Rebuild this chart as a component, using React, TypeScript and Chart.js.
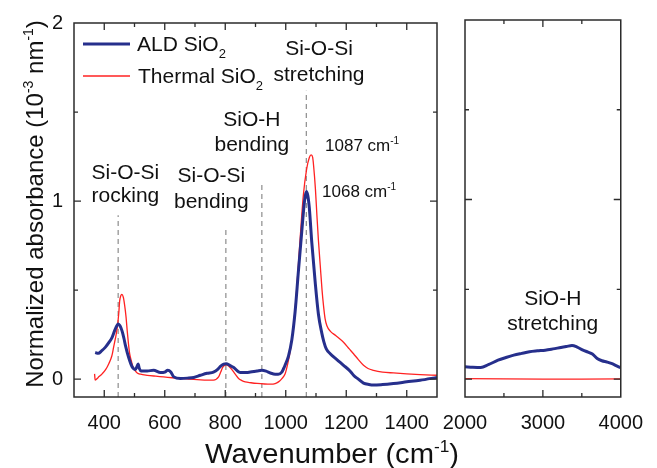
import React, { useEffect, useRef } from "react";
import { Chart, registerables } from "chart.js";

Chart.register(...registerables);

// ---------- data ----------
const ALD_WN = [370, 380, 392, 404, 415, 426, 436, 446, 452, 459, 465, 470, 481, 492, 503, 508, 512, 516, 522, 542, 563, 586, 600, 610, 620, 630, 652, 675, 696, 718, 740, 761, 775, 784, 795, 803, 815, 828, 850, 870, 883, 905, 921, 935, 949, 965, 975, 987, 993, 998, 1009, 1020, 1031, 1042, 1053, 1062, 1068, 1073, 1078, 1086, 1097, 1108, 1119, 1126, 1134, 1147, 1169, 1191, 1213, 1224, 1240, 1257, 1275, 1290, 1320, 1356, 1400, 1444, 1500];
const ALD_ABS = [0.15, 0.145, 0.16, 0.18, 0.205, 0.235, 0.28, 0.31, 0.3, 0.27, 0.23, 0.19, 0.12, 0.07, 0.055, 0.07, 0.085, 0.06, 0.046, 0.046, 0.05, 0.037, 0.04, 0.05, 0.04, 0.013, 0.004, 0.006, 0.01, 0.022, 0.033, 0.04, 0.055, 0.072, 0.085, 0.087, 0.078, 0.065, 0.037, 0.037, 0.04, 0.046, 0.05, 0.045, 0.035, 0.028, 0.028, 0.04, 0.06, 0.08, 0.13, 0.22, 0.38, 0.61, 0.83, 1.0, 1.054, 1.03, 0.96, 0.77, 0.55, 0.365, 0.26, 0.21, 0.17, 0.143, 0.11, 0.078, 0.045, 0.022, 0.0, -0.022, -0.03, -0.033, -0.03, -0.024, -0.015, -0.006, 0.01];

const TH_WN = [368, 370, 380, 393, 405, 415, 425, 431, 437, 443, 448, 451, 455, 458, 463, 467, 472, 476, 480, 484, 490, 495, 502, 509, 520, 542, 570, 596, 625, 652, 680, 707, 740, 761, 778, 785, 792, 803, 812, 822, 833, 844, 855, 866, 885, 905, 930, 949, 965, 976, 988, 998, 1007, 1015, 1026, 1036, 1046, 1058, 1069, 1078, 1084, 1089, 1092, 1098, 1103, 1108, 1114, 1120, 1125, 1130, 1136, 1147, 1165, 1191, 1210, 1224, 1240, 1257, 1272, 1290, 1320, 1356, 1400, 1444, 1500];
const TH_ABS = [0.03, -0.005, 0.01, 0.03, 0.055, 0.087, 0.13, 0.18, 0.23, 0.29, 0.37, 0.44, 0.47, 0.476, 0.46, 0.42, 0.35, 0.27, 0.2, 0.143, 0.1, 0.068, 0.048, 0.035, 0.028, 0.022, 0.017, 0.013, 0.008, 0.004, 0.0, -0.002, -0.005, -0.005, 0.013, 0.04, 0.068, 0.081, 0.073, 0.054, 0.028, 0.004, -0.008, -0.015, -0.02, -0.024, -0.027, -0.028, -0.025, -0.015, 0.005, 0.03, 0.09, 0.16, 0.3, 0.5, 0.75, 1.03, 1.18, 1.245, 1.26, 1.245, 1.2, 1.07, 0.92, 0.78, 0.64, 0.5, 0.41, 0.34, 0.3, 0.27, 0.245, 0.207, 0.17, 0.143, 0.11, 0.078, 0.06, 0.05, 0.04, 0.035, 0.03, 0.026, 0.022];

const ALD_HI_WN = [2000, 2100, 2202, 2300, 2424, 2526, 2626, 2728, 2828, 2930, 3030, 3130, 3232, 3300, 3374, 3440, 3515, 3580, 3636, 3697, 3758, 3820, 3879, 3940, 4000];
const ALD_HI_ABS = [0.068, 0.066, 0.065, 0.08, 0.105, 0.12, 0.133, 0.143, 0.152, 0.157, 0.161, 0.168, 0.176, 0.181, 0.187, 0.178, 0.161, 0.15, 0.139, 0.115, 0.102, 0.095, 0.087, 0.075, 0.063];

const TH_HI_WN = [2000, 2500, 3000, 3500, 4000];
const TH_HI_ABS = [0.002, 0.001, 0.0, 0.0, 0.001];

const LOW_TICKS = [400, 600, 800, 1000, 1200, 1400];
const HIGH_TICKS = [2000, 3000, 4000];
const Y_TICKS = [0, 1, 2];

// vibrational band markers (wavenumber, top of dashed line)
const MARKER_WN = [446, 802, 921, 1068];
const MARKER_TOP = [0.92, 0.84, 1.11, 1.62];

const SERIES_NAMES = ["ALD SiO", "Thermal SiO"];

// ---------- styling ----------
const FONT = '"Liberation Sans", Arial, Helvetica, sans-serif';
const BLUE = "#262f8c";
const RED = "#ff2222";
const INK = "#111111";
const FRAME = "#2b2b2b";
const W = 657;
const H = 468;

type Part = { t: string; s?: "sup" | "sub" };

function drawRich(ctx: CanvasRenderingContext2D, parts: Part[], x: number, y: number, size: number, align: "left" | "center", sx = 1) {
  const small = Math.round(size * 0.6);
  let total = 0;
  for (const p of parts) {
    ctx.font = `${p.s ? small : size}px ${FONT}`;
    total += ctx.measureText(p.t).width;
  }
  ctx.save();
  ctx.translate(x, y);
  ctx.scale(sx, 1);
  let cx = align === "center" ? -total / 2 : 0;
  ctx.textAlign = "left";
  ctx.textBaseline = "alphabetic";
  for (const p of parts) {
    ctx.font = `${p.s ? small : size}px ${FONT}`;
    const dy = p.s === "sup" ? -size * 0.42 : p.s === "sub" ? size * 0.32 : 0;
    ctx.fillText(p.t, cx, dy);
    cx += ctx.measureText(p.t).width;
  }
  ctx.restore();
}

function drawFrameAndTicks(chart: any, xMinor: number[], xMajor: number[], yMinor: number[], yMajor: number[]) {
  const ctx: CanvasRenderingContext2D = chart.ctx;
  const { left, right, top, bottom } = chart.chartArea;
  const xs = chart.scales.x;
  const ys = chart.scales.y;
  ctx.save();
  ctx.strokeStyle = FRAME;
  ctx.lineWidth = 1.5;
  ctx.strokeRect(left, top, right - left, bottom - top);
  ctx.lineWidth = 1.3;
  ctx.beginPath();
  const tick = (v: number, len: number) => {
    const px = xs.getPixelForValue(v);
    if (px <= left + 1 || px >= right - 1) return;
    ctx.moveTo(px, top);
    ctx.lineTo(px, top + len);
    ctx.moveTo(px, bottom);
    ctx.lineTo(px, bottom - len);
  };
  xMinor.forEach((v) => tick(v, 4));
  xMajor.forEach((v) => tick(v, 7));
  const ytick = (v: number, len: number) => {
    const py = ys.getPixelForValue(v);
    if (py <= top + 1 || py >= bottom - 1) return;
    ctx.moveTo(left, py);
    ctx.lineTo(left + len, py);
    ctx.moveTo(right, py);
    ctx.lineTo(right - len, py);
  };
  yMinor.forEach((v) => ytick(v, 4));
  yMajor.forEach((v) => ytick(v, 7));
  ctx.stroke();
  ctx.restore();
}

function toXY(xs: number[], ys: number[]) {
  return xs.map((x, i) => ({ x, y: ys[i] }));
}

export default function App() {
  const leftRef = useRef<HTMLCanvasElement | null>(null);
  const rightRef = useRef<HTMLCanvasElement | null>(null);

  useEffect(() => {
    document.body.style.margin = "0";
    const lc = leftRef.current!;
    const rc = rightRef.current!;

    const markerSets = MARKER_WN.map((wn, i) => ({
      label: "marker" + i,
      data: [
        { x: wn, y: -0.1 },
        { x: wn, y: MARKER_TOP[i] },
      ],
      borderColor: "#8c8c8c",
      borderWidth: 1.2,
      borderDash: [5, 4],
      pointRadius: 0,
      fill: false,
    }));

    const leftPlugin = {
      id: "leftDecor",
      afterDraw(chart: any) {
        drawFrameAndTicks(chart, [500, 700, 900, 1100, 1300], LOW_TICKS, [0.5, 1.5], [0, 1]);
        const ctx: CanvasRenderingContext2D = chart.ctx;
        const xs = chart.scales.x;
        const ys = chart.scales.y;
        const { left, top } = chart.chartArea;
        const X = (v: number) => xs.getPixelForValue(v);
        const Y = (v: number) => ys.getPixelForValue(v);
        ctx.save();
        ctx.fillStyle = INK;

        // legend
        ctx.lineWidth = 3;
        ctx.strokeStyle = BLUE;
        ctx.beginPath();
        ctx.moveTo(left + 9, top + 21);
        ctx.lineTo(left + 56, top + 21);
        ctx.stroke();
        ctx.lineWidth = 1.3;
        ctx.strokeStyle = RED;
        ctx.beginPath();
        ctx.moveTo(left + 9, top + 53);
        ctx.lineTo(left + 56, top + 53);
        ctx.stroke();
        drawRich(ctx, [{ t: SERIES_NAMES[0] }, { t: "2", s: "sub" }], left + 63, top + 28, 21, "left");
        drawRich(ctx, [{ t: SERIES_NAMES[1] }, { t: "2", s: "sub" }], left + 64, top + 60, 21, "left");

        // band labels
        drawRich(ctx, [{ t: "Si-O-Si" }], X(470), Y(1.123), 21, "center");
        drawRich(ctx, [{ t: "rocking" }], X(470), Y(0.994), 21, "center");
        drawRich(ctx, [{ t: "Si-O-Si" }], X(754), Y(1.106), 21, "center");
        drawRich(ctx, [{ t: "bending" }], X(754), Y(0.961), 21, "center");
        drawRich(ctx, [{ t: "SiO-H" }], X(888), Y(1.42), 21, "center");
        drawRich(ctx, [{ t: "bending" }], X(888), Y(1.28), 21, "center");
        drawRich(ctx, [{ t: "Si-O-Si" }], X(1110), Y(1.818), 21, "center");
        drawRich(ctx, [{ t: "stretching" }], X(1110), Y(1.676), 21, "center");
        drawRich(ctx, [{ t: "1087 cm" }, { t: "-1", s: "sup" }], X(1130), Y(1.282), 17, "left");
        drawRich(ctx, [{ t: "1068 cm" }, { t: "-1", s: "sup" }], X(1120), Y(1.022), 17, "left");

        // x-axis title (spans both panels)
        drawRich(ctx, [{ t: "Wavenumber (cm" }, { t: "-1", s: "sup" }, { t: ")" }], 332, 463, 27, "center", 1.08);

        // y-axis title
        ctx.translate(43, 204);
        ctx.rotate(-Math.PI / 2);
        drawRich(ctx, [{ t: "Normalized absorbance (10" }, { t: "-3", s: "sup" }, { t: " nm" }, { t: "-1", s: "sup" }, { t: ")" }], 0, 0, 24, "center");
        ctx.restore();
      },
    };

    const rightPlugin = {
      id: "rightDecor",
      afterDraw(chart: any) {
        drawFrameAndTicks(chart, [2500, 3500], HIGH_TICKS, [0.5, 1.5], [0, 1]);
        const ctx: CanvasRenderingContext2D = chart.ctx;
        const X = (v: number) => chart.scales.x.getPixelForValue(v);
        const Y = (v: number) => chart.scales.y.getPixelForValue(v);
        ctx.save();
        ctx.fillStyle = INK;
        drawRich(ctx, [{ t: "SiO-H" }], X(3127), Y(0.411), 21, "center");
        drawRich(ctx, [{ t: "stretching" }], X(3127), Y(0.272), 21, "center");
        ctx.restore();
      },
    };

    const tickFont = { family: FONT, size: 20 };
    const plain = (v: any) => String(v);

    const left = new Chart(lc, {
      type: "line",
      data: {
        datasets: [
          { label: "ALD", data: toXY(ALD_WN, ALD_ABS), borderColor: BLUE, borderWidth: 3, pointRadius: 0, cubicInterpolationMode: "monotone", fill: false } as any,
          { label: "Thermal", data: toXY(TH_WN, TH_ABS), borderColor: RED, borderWidth: 1.3, pointRadius: 0, cubicInterpolationMode: "monotone", fill: false } as any,
          ...markerSets,
        ],
      },
      options: {
        responsive: false,
        animation: false,
        devicePixelRatio: 1,
        layout: { padding: { left: 0, top: 19, right: W - 437, bottom: 0 } },
        plugins: { legend: { display: false }, tooltip: { enabled: false } },
        scales: {
          x: {
            type: "linear",
            min: 300,
            max: 1500,
            grid: { display: false, drawTicks: false, tickLength: 0 },
            border: { display: false },
            ticks: { font: tickFont, color: INK, padding: 14, autoSkip: false, maxRotation: 0, callback: plain },
            afterBuildTicks: (s: any) => {
              s.ticks = LOW_TICKS.map((v) => ({ value: v }));
            },
            afterFit: (s: any) => {
              s.height = H - 397;
            },
          },
          y: {
            type: "linear",
            min: -0.1,
            max: 2,
            grid: { display: false, drawTicks: false, tickLength: 0 },
            border: { display: false },
            ticks: { font: tickFont, color: INK, padding: 11, callback: plain },
            afterBuildTicks: (s: any) => {
              s.ticks = Y_TICKS.map((v) => ({ value: v }));
            },
            afterFit: (s: any) => {
              s.width = 74;
            },
          },
        },
      } as any,
      plugins: [leftPlugin],
    });

    const right = new Chart(rc, {
      type: "line",
      data: {
        datasets: [
          { label: "ALD", data: toXY(ALD_HI_WN, ALD_HI_ABS), borderColor: BLUE, borderWidth: 3, pointRadius: 0, cubicInterpolationMode: "monotone", fill: false } as any,
          { label: "Thermal", data: toXY(TH_HI_WN, TH_HI_ABS), borderColor: RED, borderWidth: 1.3, pointRadius: 0, fill: false } as any,
        ],
      },
      options: {
        responsive: false,
        animation: false,
        devicePixelRatio: 1,
        layout: { padding: { left: 465, top: 20, right: W - 630, bottom: 0 } },
        plugins: { legend: { display: false }, tooltip: { enabled: false } },
        scales: {
          x: {
            type: "linear",
            min: 2000,
            max: 4000,
            grid: { display: false, drawTicks: false, tickLength: 0 },
            border: { display: false },
            ticks: { font: tickFont, color: INK, padding: 14, autoSkip: false, maxRotation: 0, callback: plain },
            afterBuildTicks: (s: any) => {
              s.ticks = HIGH_TICKS.map((v) => ({ value: v }));
            },
            afterFit: (s: any) => {
              s.height = H - 397;
            },
          },
          y: {
            type: "linear",
            min: -0.1,
            max: 2,
            display: false,
          },
        },
      } as any,
      plugins: [rightPlugin],
    });

    return () => {
      left.destroy();
      right.destroy();
    };
  }, []);

  const cs: React.CSSProperties = { position: "absolute", left: 0, top: 0, width: W, height: H };
  return (
    <div style={{ position: "relative", width: W, height: H, overflow: "hidden", background: "#fff" }}>
      <canvas ref={leftRef} width={W} height={H} style={cs} />
      <canvas ref={rightRef} width={W} height={H} style={cs} />
    </div>
  );
}
